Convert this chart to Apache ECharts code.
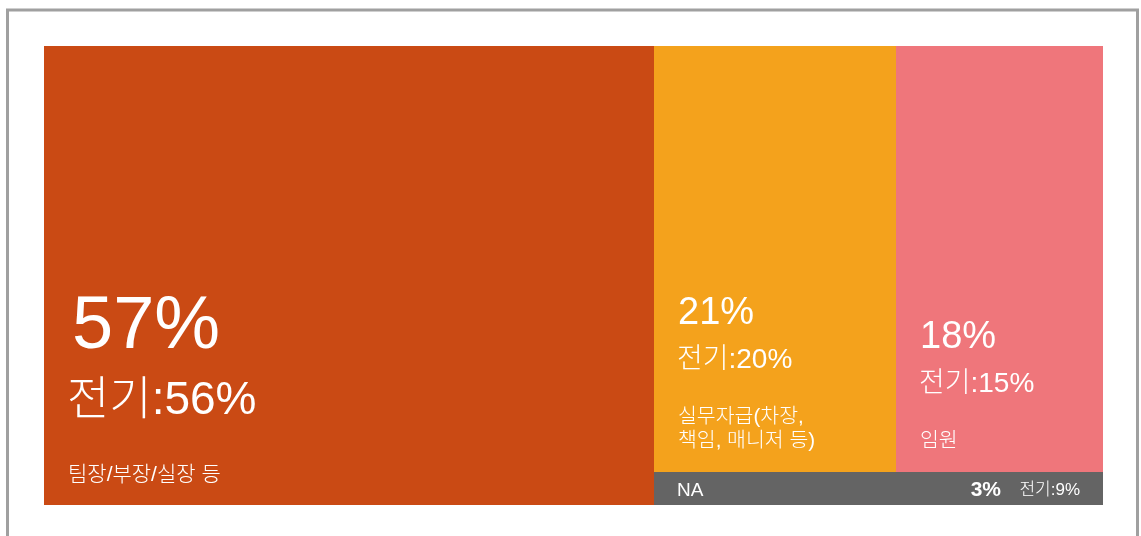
<!DOCTYPE html>
<html>
<head>
<meta charset="utf-8">
<script src="https://cdn.jsdelivr.net/npm/echarts@6/dist/echarts.min.js"></script>
<style>
  html, body { margin: 0; padding: 0; background: #ffffff; }
  #chart { width: 1141px; height: 536px; }
</style>
</head>
<body>
<div id="chart"></div>
<script>
// 직급별 응답 비율 (이번 조사 vs 전기)
const categories = ['팀장/부장/실장 등', '실무자급(차장,\n책임, 매니저 등)', '임원', 'NA'];
const currentShare = [57, 21, 18, 3];
const previousShare = [56, 20, 15, 9];
const prevPrefix = '전기:';
const colors = ['#CA4A14', '#F4A21C', '#EF767B', '#646464'];

const FONT = "'Liberation Sans', 'Noto Sans CJK KR', sans-serif";

// Mosaic layout: the largest group takes a full-height column; the rest of the
// width holds NA along the bottom and the remaining two groups side by side above it.
const total = currentShare.reduce((a, b) => a + b, 0);
const restWidth = total - currentShare[0];
const naHeight = currentShare[3] / restWidth;
const midWidth = restWidth * currentShare[1] / (currentShare[1] + currentShare[2]);

const cells = [
  [0, currentShare[0], 0, 1, 0],
  [currentShare[0], currentShare[0] + midWidth, naHeight, 1, 1],
  [currentShare[0] + midWidth, total, naHeight, 1, 2],
  [currentShare[0], total, 0, naHeight, 3]
];

function txt(text, x, y, font, extra) {
  return { type: 'text', style: Object.assign({ text: text, x: x, y: y, fill: '#fff', font: font }, extra || {}) };
}

function renderItem(params, api) {
  const idx = api.value(4);
  const p0 = api.coord([api.value(0), api.value(3)]);
  const p1 = api.coord([api.value(1), api.value(2)]);
  const x0 = Math.round(p0[0]), y0 = Math.round(p0[1]);
  const x1 = Math.round(p1[0]), y1 = Math.round(p1[1]);
  const children = [{
    type: 'rect',
    shape: { x: x0, y: y0, width: x1 - x0, height: y1 - y0 },
    style: { fill: colors[idx] }
  }];
  const cur = currentShare[idx] + '%';
  const prev = prevPrefix + previousShare[idx] + '%';
  const name = categories[idx];
  const left = x0 + 24;
  const lines = name.split('\n').length;

  if (idx === 3) {
    const cy = (y0 + y1) / 2 + 2;
    children.push(
      txt(name, x0 + 23, cy, '300 19px ' + FONT, { verticalAlign: 'middle' }),
      txt(prev, x1 - 23, cy, '300 17px ' + FONT, { align: 'right', verticalAlign: 'middle' }),
      txt(cur, x1 - 102, cy, 'bold 21px ' + FONT, { align: 'right', verticalAlign: 'middle' })
    );
  } else if (idx === 0) {
    const nameBottom = y1 - 18;
    const nameTop = nameBottom - lines * 24;
    const prevY = nameTop - 62;
    const curY = prevY - 73;
    children.push(
      txt(name, left, nameBottom, '300 21px ' + FONT, { lineHeight: 24, verticalAlign: 'bottom' }),
      txt(prev, left - 1, prevY, '300 46px ' + FONT, { verticalAlign: 'middle' }),
      txt(cur, left + 4, curY, '400 74px ' + FONT, { verticalAlign: 'middle' })
    );
  } else {
    const nameBottom = y1 - 19;
    const nameTop = nameBottom - lines * 24;
    const prevY = nameTop - 45;
    const curY = prevY - 46;
    children.push(
      txt(name, left, nameBottom, '300 20.5px ' + FONT, { lineHeight: 24, verticalAlign: 'bottom' }),
      txt(prev, left - 1, prevY, '300 28px ' + FONT, { verticalAlign: 'middle' }),
      txt(cur, left, curY, '400 38px ' + FONT, { verticalAlign: 'middle' })
    );
  }
  return { type: 'group', children: children };
}

const chart = echarts.init(document.getElementById('chart'), null, { renderer: 'canvas' });
chart.setOption({
  animation: false,
  backgroundColor: '#ffffff',
  graphic: [{
    type: 'rect',
    shape: { x: 7.5, y: 10, width: 1130, height: 600 },
    style: { fill: 'none', stroke: '#a0a0a0', lineWidth: 3 },
    silent: true
  }],
  grid: { left: 44, top: 46, width: 1059, height: 459 },
  xAxis: { type: 'value', min: 0, max: total, show: false },
  yAxis: { type: 'value', min: 0, max: 1, show: false },
  series: [{
    type: 'custom',
    renderItem: renderItem,
    data: cells,
    encode: { x: [0, 1], y: [2, 3] }
  }]
});
</script>
</body>
</html>
